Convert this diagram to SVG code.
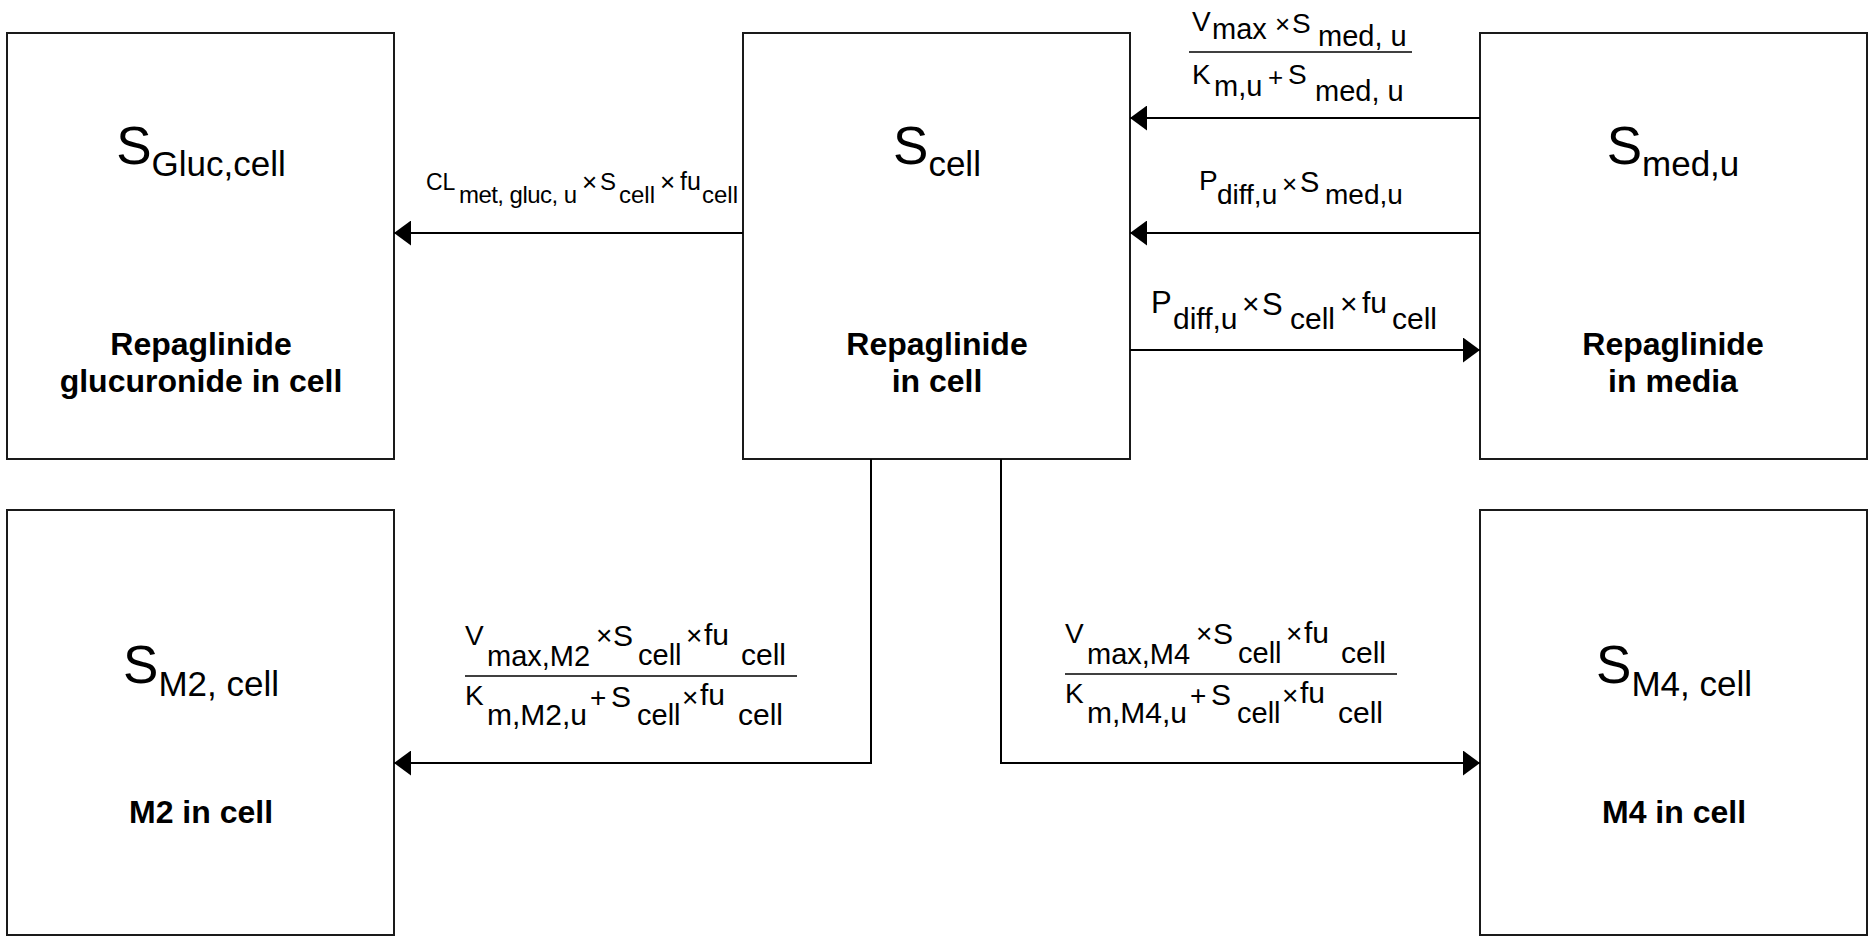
<svg xmlns="http://www.w3.org/2000/svg" width="1873" height="940" viewBox="0 0 1873 940">
<style>
text{font-family:"Liberation Sans",Arial,sans-serif;fill:#000}
.box{fill:#fff;stroke:#1a1a1a;stroke-width:2}
.t{font-size:35px;text-anchor:middle}
.b{font-size:32px;font-weight:bold;text-anchor:middle}
.c{fill:none;stroke:#000;stroke-width:2}
.f{stroke:#000;stroke-width:1.5}
</style>
<defs>
<marker id="ah" markerUnits="userSpaceOnUse" markerWidth="17" markerHeight="25" refX="17" refY="12.5" orient="auto" viewBox="0 0 17 25">
<path d="M0,0 L17,12.5 L0,25 z" fill="#000"/>
</marker>
</defs>
<rect width="1873" height="940" fill="#fff"/>

<g id="node-gluc">
<rect class="box" x="7" y="33" width="387" height="426"/>
<text class="t" x="201" y="164"><tspan font-size="53">S</tspan><tspan dy="12">Gluc,cell</tspan></text>
<text class="b" x="201" y="355">Repaglinide</text>
<text class="b" x="201" y="392">glucuronide in cell</text>
</g>

<g id="node-cell">
<rect class="box" x="743" y="33" width="387" height="426"/>
<text class="t" x="937" y="164"><tspan font-size="53">S</tspan><tspan dy="12">cell</tspan></text>
<text class="b" x="937" y="355">Repaglinide</text>
<text class="b" x="937" y="392">in cell</text>
</g>

<g id="node-media">
<rect class="box" x="1480" y="33" width="387" height="426"/>
<text class="t" x="1673" y="164"><tspan font-size="53">S</tspan><tspan dy="12">med,u</tspan></text>
<text class="b" x="1673" y="355">Repaglinide</text>
<text class="b" x="1673" y="392">in media</text>
</g>

<g id="node-m2">
<rect class="box" x="7" y="510" width="387" height="425"/>
<text class="t" x="201" y="683"><tspan font-size="53">S</tspan><tspan dy="13">M2, cell</tspan></text>
<text class="b" x="201" y="823">M2 in cell</text>
</g>

<g id="node-m4">
<rect class="box" x="1480" y="510" width="387" height="425"/>
<text class="t" x="1674" y="683"><tspan font-size="53">S</tspan><tspan dy="13">M4, cell</tspan></text>
<text class="b" x="1674" y="823">M4 in cell</text>
</g>

<g id="connectors">
<path class="c" d="M743,233 H394" marker-end="url(#ah)"/>
<path class="c" d="M1480,118 H1130" marker-end="url(#ah)"/>
<path class="c" d="M1480,233 H1130" marker-end="url(#ah)"/>
<path class="c" d="M1130,350 H1480" marker-end="url(#ah)"/>
<path class="c" d="M871,459 V763 H394" marker-end="url(#ah)"/>
<path class="c" d="M1001,459 V763 H1480" marker-end="url(#ah)"/>
</g>

<g id="label-gluc">
<text x="426" y="190" font-size="23">CL</text>
<text x="459" y="203" font-size="24" textLength="118" lengthAdjust="spacing">met, gluc, u</text>
<text x="582" y="191" font-size="26">×</text>
<text x="600" y="190" font-size="24">S</text>
<text x="619" y="203" font-size="24">cell</text>
<text x="660" y="191" font-size="26">×</text>
<text x="680" y="190" font-size="25">fu</text>
<text x="702" y="203" font-size="24">cell</text>
</g>

<g id="label-uptake">
<text x="1192" y="31" font-size="28">V</text>
<text x="1212" y="39" font-size="29">max</text>
<text x="1275" y="33" font-size="26">×</text>
<text x="1292" y="33" font-size="28">S</text>
<text x="1318" y="46" font-size="29">med, u</text>
<line class="f" x1="1189" y1="52" x2="1412" y2="52"/>
<text x="1192" y="84" font-size="28">K</text>
<text x="1214" y="96" font-size="29">m,u</text>
<text x="1268" y="86" font-size="26">+</text>
<text x="1288" y="84" font-size="28">S</text>
<text x="1315" y="101" font-size="29">med, u</text>
</g>

<g id="label-diff-in">
<text x="1199" y="190" font-size="28">P</text>
<text x="1217" y="204" font-size="28">diff,u</text>
<text x="1282" y="193" font-size="26">×</text>
<text x="1300" y="192" font-size="29">S</text>
<text x="1325" y="204" font-size="28">med,u</text>
</g>

<g id="label-diff-out">
<text x="1151" y="313" font-size="31">P</text>
<text x="1173" y="329" font-size="30">diff,u</text>
<text x="1242" y="314" font-size="30">×</text>
<text x="1262" y="315" font-size="31">S</text>
<text x="1290" y="329" font-size="30">cell</text>
<text x="1340" y="314" font-size="30">×</text>
<text x="1362" y="313" font-size="30">fu</text>
<text x="1392" y="329" font-size="30">cell</text>
</g>

<g id="label-m2">
<text x="465" y="645" font-size="28">V</text>
<text x="487" y="666" font-size="29">max,M2</text>
<text x="596" y="645" font-size="28">×</text>
<text x="613" y="646" font-size="30">S</text>
<text x="638" y="665" font-size="29">cell</text>
<text x="686" y="645" font-size="28">×</text>
<text x="704" y="645" font-size="30">fu</text>
<text x="741" y="665" font-size="30">cell</text>
<line class="f" x1="465" y1="676" x2="797" y2="676"/>
<text x="465" y="705" font-size="28">K</text>
<text x="487" y="725" font-size="30">m,M2,u</text>
<text x="590" y="707" font-size="28">+</text>
<text x="611" y="707" font-size="30">S</text>
<text x="637" y="725" font-size="29">cell</text>
<text x="682" y="707" font-size="28">×</text>
<text x="700" y="705" font-size="30">fu</text>
<text x="738" y="725" font-size="30">cell</text>
</g>

<g id="label-m4" transform="translate(600,-2)">
<text x="465" y="645" font-size="28">V</text>
<text x="487" y="666" font-size="29">max,M4</text>
<text x="596" y="645" font-size="28">×</text>
<text x="613" y="646" font-size="30">S</text>
<text x="638" y="665" font-size="29">cell</text>
<text x="686" y="645" font-size="28">×</text>
<text x="704" y="645" font-size="30">fu</text>
<text x="741" y="665" font-size="30">cell</text>
<line class="f" x1="465" y1="676" x2="797" y2="676"/>
<text x="465" y="705" font-size="28">K</text>
<text x="487" y="725" font-size="30">m,M4,u</text>
<text x="590" y="707" font-size="28">+</text>
<text x="611" y="707" font-size="30">S</text>
<text x="637" y="725" font-size="29">cell</text>
<text x="682" y="707" font-size="28">×</text>
<text x="700" y="705" font-size="30">fu</text>
<text x="738" y="725" font-size="30">cell</text>
</g>
</svg>
